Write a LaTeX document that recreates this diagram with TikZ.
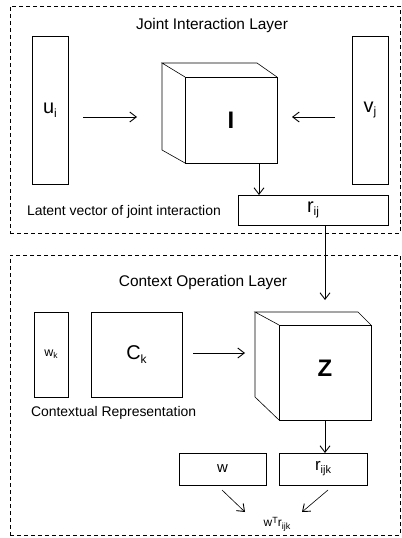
\documentclass[tikz,border=0pt]{standalone}
\usepackage{fontspec}
\setmainfont{Liberation Sans}
\usetikzlibrary{arrows.meta}
\begin{document}
\begin{tikzpicture}[x=1bp,y=-1bp,
  every node/.style={inner sep=0pt,outer sep=0pt},
  box/.style={draw,line width=0.6bp},
  layer/.style={draw,line width=0.7bp,dash pattern=on 4bp off 3bp},
  arr/.style={line width=0.6bp,-{Straight Barb[length=6.5bp,width=10bp,line width=0.9bp]}},
  cube/.style={line width=0.6bp},
  lbl/.style={font=\fontsize{15.5}{18}\selectfont},
  sym/.style={font=\fontsize{20}{22}\selectfont},
  big/.style={font=\fontsize{24}{26}\selectfont\bfseries},
  small/.style={font=\fontsize{14}{16}\selectfont}]
\useasboundingbox (0,0) rectangle (401,538);
% layers
\node[layer,minimum width=390bp,minimum height=227bp,anchor=north west] (L1) at (10,6) {};
\node[layer,minimum width=390bp,minimum height=280bp,anchor=north west] (L2) at (10,255) {};
\node[lbl] (t1) at (212,26) {Joint Interaction Layer};
\node[lbl] (t2) at (203,283) {Context Operation Layer};
% top layer
\node[box,minimum width=36bp,minimum height=148bp,anchor=north west] (u) at (32,36) {};
\node[sym] at (u.center) {u\raisebox{-0.35ex}{\fontsize{12}{14}\selectfont i}};
\node[box,minimum width=36bp,minimum height=148bp,anchor=north west] (v) at (352,36) {};
\node[sym] at (v.center) {v\raisebox{-0.35ex}{\fontsize{12}{14}\selectfont j}};
% cube I
\node[box,fill=white,minimum width=92bp,minimum height=86bp,anchor=north west] (I) at (185,77) {};
\draw[cube] (I.north west) -- ++(-23,-14) coordinate (Ia) -- ++(95,0) coordinate (Ib) -- (I.north east);
\draw[cube] (Ia) -- ++(0,87) -- (I.south west);
\node[big] at (I.center) {I};
\node[box,minimum width=150bp,minimum height=30bp,anchor=north west] (rij) at (238,195) {};
\node[sym] at (rij.center) {r\raisebox{-0.35ex}{\fontsize{12}{14}\selectfont ij}};
\node[small,anchor=west] (lat) at (27,212) {Latent vector of joint interaction};
\coordinate (ua) at (83,117);
\coordinate (ub) at (137,117);
\draw[arr] (ua) -- (ub);
\coordinate (va) at (335,117);
\coordinate (vb) at (292,117);
\draw[arr] (va) -- (vb);
\draw[arr] (I.south -| 259,0) -- (rij.north -| 259,0);
% bottom layer
\node[box,minimum width=34bp,minimum height=85bp,anchor=north west] (wk) at (34,312) {};
\node[font=\fontsize{12.5}{15}\selectfont] at (wk.center) {w\raisebox{-0.35ex}{\fontsize{8.5}{10}\selectfont k}};
\node[box,minimum width=91bp,minimum height=85bp,anchor=north west] (C) at (91,312) {};
\node[sym] at (C.center) {C\raisebox{-0.35ex}{\fontsize{12}{14}\selectfont k}};
\node[small,anchor=west] (ctx) at (31,413) {Contextual Representation};
% cube Z
\node[box,fill=white,minimum width=92bp,minimum height=95bp,anchor=north west] (Z) at (279,325) {};
\draw[cube] (Z.north west) -- ++(-24,-13) coordinate (Za) -- ++(103,0) coordinate (Zb) -- (Z.north east);
\draw[cube] (Za) -- ++(0,85) -- (Z.south west);
\node[big] at ([yshift=4bp]Z.center) {Z};
\draw[arr] (C.east |- 0,353) ++(11,0) -- (245,353);
\draw[arr] (rij.south -| 325,0) -- (325,300);
\node[box,minimum width=87bp,minimum height=32bp,anchor=north west] (w) at (179,453) {};
\node[font=\fontsize{15}{17}\selectfont] at (w.center) {w};
\node[box,minimum width=88bp,minimum height=32bp,anchor=north west] (rijk) at (279,453) {};
\node[font=\fontsize{17}{19}\selectfont] at (rijk.center) {r\raisebox{-0.35ex}{\fontsize{11}{13}\selectfont ijk}};
\draw[arr] (Z.south -| 325,0) -- (rijk.north -| 325,0);
\node[font=\fontsize{12}{14}\selectfont] (res) at (277,524) {w\raisebox{0.6ex}{\fontsize{9}{11}\selectfont T}r\raisebox{-0.4ex}{\fontsize{9}{11}\selectfont ijk}};
\draw[arr] (222,490) -- (245,512);
\draw[arr] (328,490) -- (302,512);
\end{tikzpicture}
\end{document}
